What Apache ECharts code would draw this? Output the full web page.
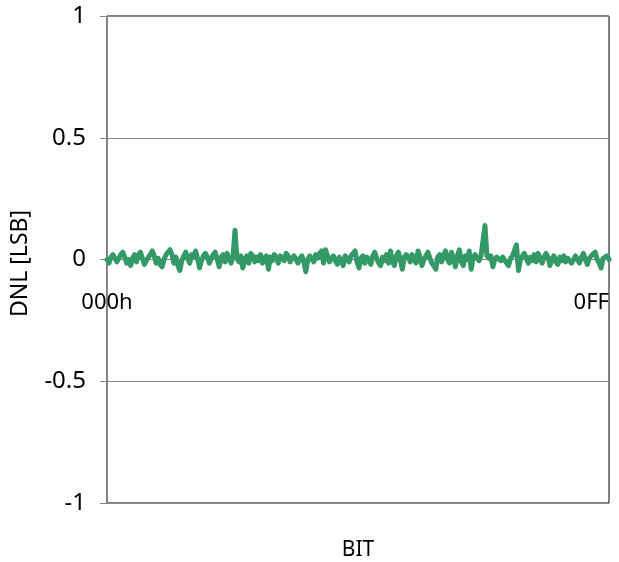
<!DOCTYPE html>
<html>
<head>
<meta charset="utf-8">
<script src="https://cdn.jsdelivr.net/npm/echarts@6/dist/echarts.min.js"></script>
<style>
  html, body { margin: 0; padding: 0; background: #fff; }
  #chart { width: 619px; height: 562px; }
</style>
</head>
<body>
<div id="chart"></div>
<script>
// DNL per code, 000h .. 0FFh
var dnl = [
  0.00, -0.015, 0.01, 0.02, 0.015, -0.01, 0.005, 0.02, 0.03, 0.01, -0.015, 0.0, -0.025, 0.005, 0.02, -0.01,
  0.02, 0.03, 0.005, -0.02, -0.025, 0.01, 0.02, 0.035, 0.015, -0.015, 0.005, -0.02, -0.03, 0.0, 0.02, 0.015,
  0.04, 0.02, -0.015, 0.01, -0.025, -0.045, -0.005, 0.015, 0.03, 0.005, -0.015, 0.02, 0.01, 0.035, 0.005, -0.035,
  -0.005, 0.015, 0.025, 0.01, -0.015, 0.005, 0.02, 0.03, 0.0, -0.03, 0.01, 0.02, -0.01, 0.025, 0.005, -0.015,
  0.01, 0.12, 0.005, -0.01, 0.015, -0.035, 0.0, 0.015, -0.015, 0.025, 0.015, -0.01, 0.01, -0.005, 0.02, -0.015,
  0.005, 0.015, -0.04, 0.01, -0.005, 0.02, 0.01, -0.015, 0.015, 0.01, -0.005, 0.025, 0.015, -0.01, 0.005, 0.015,
  0.02, -0.015, 0.005, 0.015, -0.01, -0.05, 0.0, 0.015, 0.01, -0.01, 0.02, 0.005, 0.025, 0.035, -0.015, 0.04,
  0.015, -0.01, 0.005, 0.015, -0.005, -0.02, 0.01, 0.005, -0.025, 0.015, 0.01, -0.01, 0.015, 0.025, 0.035, -0.01,
  -0.035, 0.005, 0.015, -0.015, 0.01, 0.0, -0.02, 0.015, 0.03, 0.005, -0.015, -0.025, 0.01, -0.005, 0.02, -0.015,
  0.035, -0.01, -0.025, 0.015, 0.03, 0.0, -0.04, 0.01, 0.02, 0.01, -0.01, 0.02, 0.0, -0.015, 0.035, 0.01,
  -0.025, 0.0, 0.015, 0.03, 0.005, -0.015, -0.025, -0.04, 0.01, 0.02, -0.01, 0.02, 0.035, 0.0, -0.015, 0.03,
  0.005, -0.03, 0.015, 0.04, -0.01, -0.025, 0.015, 0.0, 0.035, -0.04, 0.01, 0.02, 0.005, -0.005, 0.015, 0.01,
  0.14, 0.015, 0.005, 0.015, -0.03, 0.0, 0.01, 0.015, -0.005, 0.01, 0.015, -0.015, -0.025, 0.005, 0.015, 0.01,
  0.06, -0.045, 0.0, 0.015, 0.025, 0.005, -0.015, 0.01, -0.005, 0.02, -0.01, 0.025, 0.005, -0.015, 0.01, 0.025,
  0.01, -0.025, 0.0, 0.015, -0.01, -0.02, 0.01, -0.005, 0.015, -0.01, 0.005, 0.01, -0.015, 0.0, 0.015, 0.01,
  -0.015, 0.01, 0.025, 0.0, -0.02, 0.005, 0.015, 0.01, 0.03, 0.0, -0.015, -0.035, 0.005, 0.01, 0.015, 0.0
];
var xTickLabels = { 0: "000h", 255: "0FF" };
var yTicks = [-1, -0.5, 0, 0.5, 1];

var myChart = echarts.init(document.getElementById("chart"));
var font = "Noto Sans";
var option = {
  animation: false,
  backgroundColor: "#fff",
  grid: {
    left: 107,
    right: 10,
    top: 16,
    bottom: 59,
    outerBoundsMode: "none",
    containLabel: false,
    show: true,
    borderColor: "#000",
    borderWidth: 1
  },
  xAxis: {
    type: "value",
    min: 0,
    max: 255,
    interval: 255,
    // axis sits on y = 0 (half of the 487px plot height above the bottom)
    offset: -243.5,
    name: "BIT",
    nameLocation: "middle",
    nameGap: 280,
    nameTextStyle: { color: "#000", fontSize: 21, fontFamily: font },
    axisLine: { onZero: false, lineStyle: { color: "#868686" } },
    axisTick: { show: false },
    splitLine: { show: false },
    axisLabel: {
      margin: 32,
      color: "#000",
      fontSize: 22,
      fontFamily: font,
      alignMaxLabel: "right",
      formatter: function(v) {
        return xTickLabels[v] || "";
      }
    }
  },
  yAxis: {
    type: "value",
    min: yTicks[0],
    max: yTicks[yTicks.length - 1],
    interval: 0.5,
    name: "DNL [LSB]",
    nameLocation: "middle",
    nameGap: 75,
    nameTextStyle: { color: "#000", fontSize: 23, fontFamily: font, padding: [0, 8, 0, 0] },
    axisLine: { show: true, onZero: false, lineStyle: { color: "#868686" } },
    axisTick: { show: true, length: 7, lineStyle: { color: "#868686" } },
    splitLine: { lineStyle: { color: "#868686", width: 1 } },
    axisLabel: {
      margin: 21,
      color: "#000",
      fontSize: 24,
      fontFamily: font
    }
  },
  series: [
    {
      type: "line",
      data: dnl.map(function(v, i) { return [i, v]; }),
      showSymbol: false,
      lineStyle: { color: "#339966", width: 5, join: "round", cap: "round" }
    }
  ]
};
myChart.setOption(option);
</script>
</body>
</html>
